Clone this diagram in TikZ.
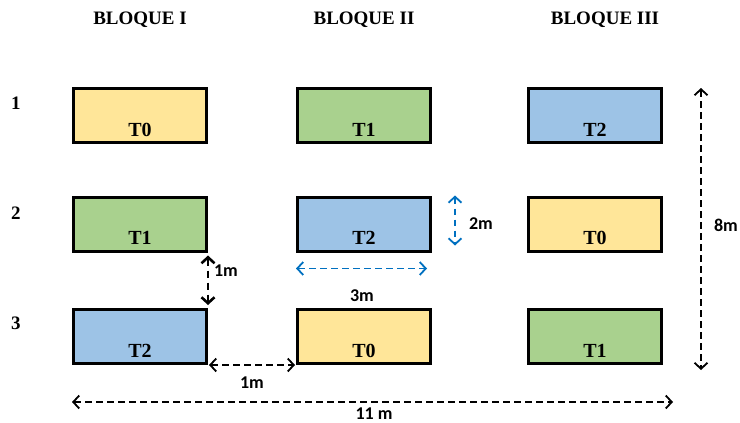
\documentclass[tikz,border=0pt]{standalone}
\usepackage{fontspec}
\setmainfont{Liberation Serif}
\newfontfamily\dimfont{Carlito}
\usetikzlibrary{arrows.meta,calc}
\definecolor{tyellow}{HTML}{FFE699}
\definecolor{tgreen}{HTML}{A9D18E}
\definecolor{tblue}{HTML}{9DC3E6}
\definecolor{dimblue}{HTML}{0070C0}
\tikzset{
  plot/.style={draw=black, line width=3pt, minimum width=133pt, minimum height=54pt, inner sep=0pt},
  tlabel/.style={font=\bfseries\fontsize{20}{20}\selectfont, inner sep=0pt},
  hdr/.style={font=\bfseries\fontsize{19}{19}\selectfont, inner sep=0pt},
  rowlbl/.style={font=\bfseries\fontsize{19}{19}\selectfont, inner sep=0pt},
  dimlbl/.style={font=\dimfont\bfseries\fontsize{18}{18}\selectfont, inner sep=0pt},
  barb/.tip={Straight Barb[length=6pt,width=13pt]},
  dimline/.style={line width=1.8pt, dash pattern=on 6.5pt off 4.5pt, barb-barb},
  dimthick/.style={line width=2.6pt, dash pattern=on 7pt off 5pt, barb-barb},
}
\begin{document}
\begin{tikzpicture}[x=1pt,y=-1pt]
\useasboundingbox (0,0) rectangle (740,423);

% column headers
\node[hdr] (h1) at (140,20) {BLOQUE I};
\node[hdr] (h2) at (364,20) {BLOQUE II};
\node[hdr] (h3) at (605,20) {BLOQUE III};

% row numbers
\node[rowlbl] (r1) at (16,103) {1};
\node[rowlbl] (r2) at (16,213) {2};
\node[rowlbl] (r3) at (16,323) {3};

% plots: b<row><column>
\node[plot, fill=tyellow] (b11) at (140,115.5) {};
\node[plot, fill=tgreen]  (b12) at (364,115.5) {};
\node[plot, fill=tblue]   (b13) at (595,115.5) {};
\node[plot, fill=tgreen]  (b21) at (140,224) {};
\node[plot, fill=tblue]   (b22) at (364,224) {};
\node[plot, fill=tyellow] (b23) at (595,224) {};
\node[plot, fill=tblue]   (b31) at (140,336.5) {};
\node[plot, fill=tyellow] (b32) at (364,336.5) {};
\node[plot, fill=tgreen]  (b33) at (595,336.5) {};

% treatment labels
\foreach \b/\t in {b11/T0,b12/T1,b13/T2,b21/T1,b22/T2,b23/T0,b31/T2,b32/T0,b33/T1}
  \node[tlabel] at ($(\b.south)+(0,-14.5)$) {\t};

% spacing between rows
\coordinate (v1a) at ($(b21.south east)+(0,3)$);
\coordinate (v1b) at ($(b31.north east)+(0,-3)$);
\draw[dimthick] (v1a) -- (v1b);
\node[dimlbl] (l1v) at (226,271) {1m};

% spacing between columns
\coordinate (h1a) at ($(b31.south east)+(1,0)$);
\coordinate (h1b) at ($(b32.south west)+(-1,0)$);
\draw[dimline] (h1a) -- (h1b);
\node[dimlbl] (l1h) at (252,383) {1m};

% plot size
\coordinate (wA) at ($(b22.south west)+(0,16)$);
\coordinate (wB) at ($(b22.south east)+(-5,16)$);
\draw[dimline, draw=dimblue] (wA) -- (wB);
\node[dimlbl] (l3) at (362,296) {3m};

\coordinate (hA) at ($(b22.north east)+(23,0)$);
\coordinate (hB) at ($(b22.south east)+(23,-7)$);
\draw[dimline, draw=dimblue] (hA) -- (hB);
\node[dimlbl] (l2) at (481,224) {2m};

% field size
\coordinate (fA) at (701,88);
\coordinate (fB) at (701,370);
\draw[dimline] (fA) -- (fB);
\node[dimlbl] (l8) at (726,225) {8m};

\coordinate (gA) at (72,402);
\coordinate (gB) at (673,402);
\draw[dimline] (gA) -- (gB);
\node[dimlbl] (l11) at (374,414) {11 m};
\end{tikzpicture}
\end{document}
